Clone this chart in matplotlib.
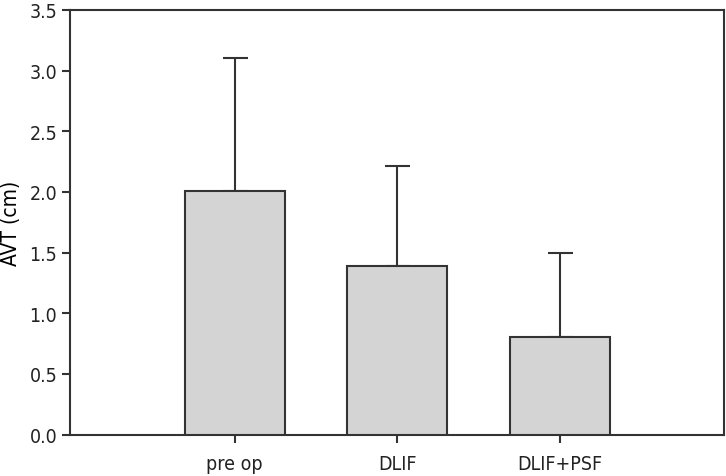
import matplotlib
matplotlib.use("Agg")
import matplotlib.pyplot as plt
import numpy as np

# data
groups = ["pre op", "DLIF", "DLIF+PSF"]
means = [2.01, 1.39, 0.80]
sd_upper = [1.09, 0.82, 0.70]

plt.rcParams['font.family'] = ['Liberation Sans Narrow', 'DejaVu Sans']
plt.rcParams['font.stretch'] = 'condensed'
edge = "#333333"

fig = plt.figure(figsize=(7.26, 4.77), dpi=100)
ax = fig.add_axes([0.097, 0.087, 0.9, 0.89])

x = np.arange(len(groups))
ax.bar(x, means, width=0.615, color="#d4d4d4", edgecolor=edge, linewidth=1.5, zorder=3)
ax.errorbar(x, means, yerr=[np.zeros(len(groups)), sd_upper], fmt="none",
            ecolor=edge, elinewidth=1.5, capsize=9, capthick=1.5, zorder=2)

ax.set_xlim(-1.01, 3.01)
ax.set_ylim(0, 3.5)
ax.set_yticks(np.arange(0, 3.6, 0.5))
ax.set_yticklabels([f"{v:.1f}" for v in np.arange(0, 3.6, 0.5)])
ax.set_xticks(x)
ax.set_xticklabels(groups)
ax.set_ylabel("AVT (cm)", fontsize=15, labelpad=6)

for s in ax.spines.values():
    s.set_color(edge)
    s.set_linewidth(1.5)
ax.tick_params(axis="both", colors=edge, labelcolor="#222222", labelsize=14,
               width=1.5, length=6, direction="out")
ax.tick_params(axis="x", pad=8)

fig.savefig("out.png", dpi=100)
